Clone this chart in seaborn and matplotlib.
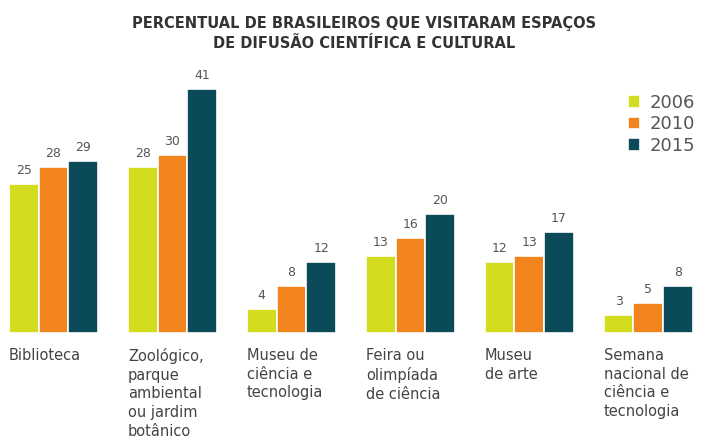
import pandas as pd
import matplotlib.pyplot as plt
import seaborn as sns

categorias = ["Biblioteca",
              "Zoológico,\nparque\nambiental\nou jardim\nbotânico",
              "Museu de\nciência e\ntecnologia",
              "Feira ou\nolimpíada\nde ciência",
              "Museu\nde arte",
              "Semana\nnacional de\nciência e\ntecnologia"]
anos = ["2006", "2010", "2015"]
v2006 = [25, 28, 4, 13, 12, 3]
v2010 = [28, 30, 8, 16, 13, 5]
v2015 = [29, 41, 12, 20, 17, 8]
cores = ["#d3dc1f", "#f2841e", "#0b4b59"]

data = pd.DataFrame({
    "cat": categorias * 3,
    "ano": [a for a in anos for _ in categorias],
    "valor": v2006 + v2010 + v2015,
})

sns.set_style("white")
plt.rcParams['font.family'] = ['DejaVu Sans']

fig = plt.figure(figsize=(7.28, 4.43), dpi=100)
ax = fig.add_axes([0, 0.248, 1, 0.6163])

sns.barplot(data=data, x="cat", y="valor", hue="ano", palette=cores,
            saturation=1, width=0.75, edgecolor="white", linewidth=1.2, ax=ax)

for cont in ax.containers:
    ax.bar_label(cont, padding=5, fontsize=9, color="#555555")

ax.set_xlim(-0.45, 5.67)
ax.set_ylim(0, 45.9)
ax.set_xticks([])
ax.set_yticks([])
ax.set_xlabel("")
ax.set_ylabel("")
sns.despine(ax=ax, left=True, bottom=True)

# rotulos das categorias alinhados a esquerda do grupo
for i, c in enumerate(categorias):
    ax.text(i - 0.375, -0.055, c, transform=ax.get_xaxis_transform(),
            ha="left", va="top", fontsize=10.5, color="#444444", linespacing=1.3)

handles, labels = ax.get_legend_handles_labels()
ax.legend(handles, labels, loc="upper left", bbox_to_anchor=(0.84, 0.825),
          bbox_transform=fig.transFigure, frameon=False, fontsize=13,
          handlelength=0.7, handleheight=0.7, handletextpad=0.5,
          labelspacing=0.2, labelcolor="#555555")

fig.text(0.5, 0.965, "PERCENTUAL DE BRASILEIROS QUE VISITARAM ESPAÇOS\nDE DIFUSÃO CIENTÍFICA E CULTURAL",
         ha="center", va="top", fontsize=10.5, fontweight="bold", color="#333333",
         linespacing=1.45)

fig.savefig("out.png", dpi=100)
